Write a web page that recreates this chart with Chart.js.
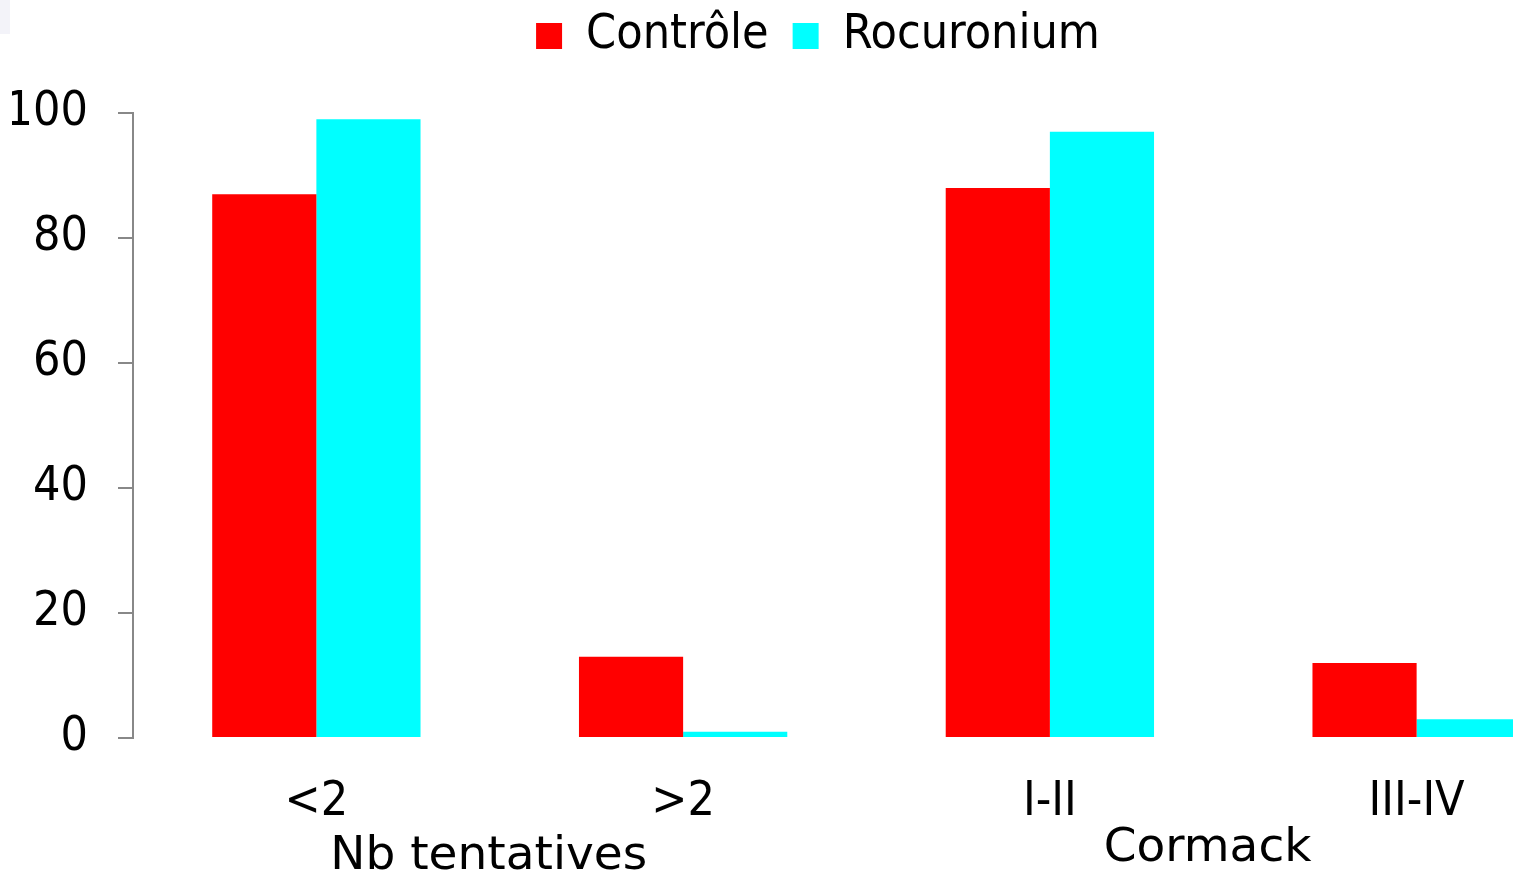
<!DOCTYPE html>
<html>
<head>
<meta charset="utf-8">
<script src="https://cdn.jsdelivr.net/npm/chart.js@4/dist/chart.umd.min.js"></script>
<style>
  html, body { margin: 0; padding: 0; background: #ffffff; overflow: hidden; }
  #wrap { position: relative; width: 1600px; height: 879px; }
  #corner { position: absolute; left: 0; top: 0; width: 10px; height: 34px; background: #f3f3f9; }
</style>
</head>
<body>
<div id="wrap">
  <canvas id="chart"></canvas>
  <div id="corner"></div>
</div>
<script>
// Categories and values (%)
const categories = ['<2', '>2', 'I-II', 'III-IV'];
const controle = [87, 13, 88, 12];
const rocuronium = [99, 1, 97, 3];
const seriesNames = ['Contrôle', 'Rocuronium'];
const yTicks = [0, 20, 40, 60, 80, 100];
// Group captions under the category labels, placed at fractional category positions
const groupLabels = ['Nb tentatives', 'Cormack'];
const groupPositions = [0.47, 2.43];

const FONT = '"DejaVu Sans Condensed", "DejaVu Sans", sans-serif';
const CAPTION_FONT = '"DejaVu Sans", sans-serif';
const FONT_SIZE = 48;
const LEGEND_PAD = 24;

// Extra room below the legend, plus a small shift of the legend row
const legendSpacer = {
  id: 'legendSpacer',
  beforeInit(chart) {
    const legend = chart.legend;
    if (!legend) return;
    const fit = legend.fit;
    legend.fit = function () {
      fit.call(this);
      this.height += 31;
    };
  },
  beforeDraw(chart) {
    const legend = chart.legend;
    if (!legend || legend._nudged) return;
    legend.left += 12;
    legend.right += 12;
    legend.top -= 12;
    legend.bottom -= 12;
    legend._nudged = true;
  }
};

const groupCaptionPlugin = {
  id: 'groupCaptions',
  afterDraw(chart) {
    const { ctx, scales } = chart;
    const x = scales.x;
    ctx.save();
    ctx.font = '47px ' + CAPTION_FONT;
    ctx.fillStyle = '#000';
    ctx.textAlign = 'center';
    ctx.textBaseline = 'middle';
    const yOffsets = [119, 111];
    groupLabels.forEach((t, i) => {
      ctx.fillText(t, x.getPixelForValue(groupPositions[i]), chart.chartArea.bottom + yOffsets[i]);
    });
    ctx.restore();
  }
};

new Chart(document.getElementById('chart'), {
  type: 'bar',
  data: {
    labels: categories,
    datasets: [
      { label: seriesNames[0], data: controle, backgroundColor: '#ff0000', borderWidth: 0 },
      { label: seriesNames[1], data: rocuronium, backgroundColor: '#00ffff', borderWidth: 0 }
    ]
  },
  options: {
    responsive: true,
    maintainAspectRatio: false,
    animation: false,
    layout: { padding: { top: 0, bottom: 0, left: 12, right: 0 } },
    datasets: { bar: { categoryPercentage: 0.568, barPercentage: 1 } },
    plugins: {
      legend: {
        position: 'top',
        labels: {
          font: { family: FONT, size: FONT_SIZE },
          color: '#000',
          boxWidth: 26,
          boxHeight: 26,
          padding: LEGEND_PAD
        }
      },
      tooltip: { enabled: false }
    },
    scales: {
      x: {
        grid: { display: false },
        border: { display: false },
        ticks: { font: { family: FONT, size: FONT_SIZE }, color: '#000', padding: 28, maxRotation: 0 },
        afterFit(scale) { scale.height = 141; }
      },
      y: {
        min: 0,
        max: 100,
        afterBuildTicks(scale) { scale.ticks = yTicks.map(v => ({ value: v })); },
        grid: { drawOnChartArea: false, drawTicks: true, tickLength: 15, color: '#888', lineWidth: 2 },
        border: { display: true, color: '#888', width: 2 },
        ticks: { font: { family: FONT, size: FONT_SIZE }, color: '#000', padding: 30 },
        afterFit(scale) { scale.width = 121; }
      }
    }
  },
  plugins: [legendSpacer, groupCaptionPlugin]
});
</script>
</body>
</html>
